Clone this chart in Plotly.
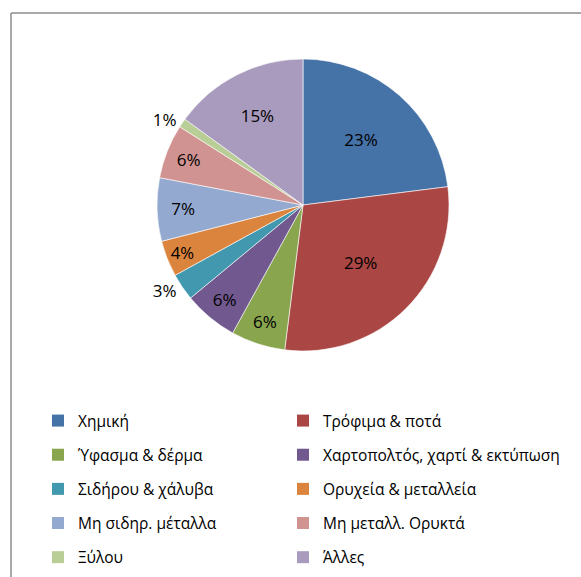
import plotly.graph_objects as go

categories = ["Χημική", "Τρόφιμα & ποτά", "Ύφασμα & δέρμα", "Χαρτοπολτός, χαρτί & εκτύπωση",
              "Σιδήρου & χάλυβα", "Ορυχεία & μεταλλεία", "Μη σιδηρ. μέταλλα",
              "Μη μεταλλ. Ορυκτά", "Ξύλου", "Άλλες"]
values = [23, 29, 6, 6, 3, 4, 7, 6, 1, 15]
colors = ["#4572A7", "#AA4643", "#89A54E", "#71588F", "#4198AF",
          "#DB843D", "#93A9CF", "#D19392", "#B9CD96", "#A99BBD"]
text_pos = ["inside", "inside", "inside", "inside", "outside",
            "inside", "inside", "inside", "outside", "inside"]

FONT = "Open Sans"
W, H = 581, 577

fig = go.Figure(go.Pie(
    labels=categories,
    values=values,
    sort=False,
    direction="clockwise",
    rotation=0,
    marker=dict(colors=colors, line=dict(color="#ffffff", width=0.6)),
    texttemplate="%{percent:.0%}",
    textposition=text_pos,
    insidetextorientation="horizontal",
    textfont=dict(family=FONT, size=17, color="#000000"),
    hoverinfo="none",
    showlegend=False,
    domain=dict(x=[157 / W, 449 / W], y=[1 - 351 / H, 1 - 59 / H]),
))

# legend entries (two columns: odd items left, even items right)
for i, (cat, col) in enumerate(zip(categories, colors)):
    fig.add_trace(go.Scatter(
        x=[None], y=[None], mode="markers", name=cat,
        marker=dict(symbol="square", size=12, color=col),
        legendgroup="g%d" % i,
        legend="legend" if i % 2 == 0 else "legend2",
        hoverinfo="none",
    ))

leg_common = dict(
    orientation="v",
    xref="container", yref="container",
    xanchor="left",
    y=1 - 404 / H, yanchor="top",
    font=dict(family=FONT, size=15.5, color="#000000"),
    itemwidth=30,
    tracegroupgap=11,
    bgcolor="rgba(0,0,0,0)",
)

fig.update_layout(
    width=W, height=H,
    margin=dict(l=0, r=0, t=0, b=0, autoexpand=False),
    paper_bgcolor="white",
    plot_bgcolor="white",
    font=dict(family=FONT, color="#000000"),
    showlegend=True,
    xaxis=dict(visible=False),
    yaxis=dict(visible=False),
    legend=dict(x=38 / W, **leg_common),
    legend2=dict(x=283 / W, **leg_common),
    shapes=[
        dict(type="line", xref="paper", yref="paper",
             x0=11 / W, x1=1.05, y0=1 - 13 / H, y1=1 - 13 / H,
             line=dict(color="#8c8c8c", width=1.5)),
        dict(type="line", xref="paper", yref="paper",
             x0=11 / W, x1=11 / W, y0=1 - 13 / H, y1=-0.05,
             line=dict(color="#8c8c8c", width=1.5)),
    ],
)

fig.write_html("out.html")
